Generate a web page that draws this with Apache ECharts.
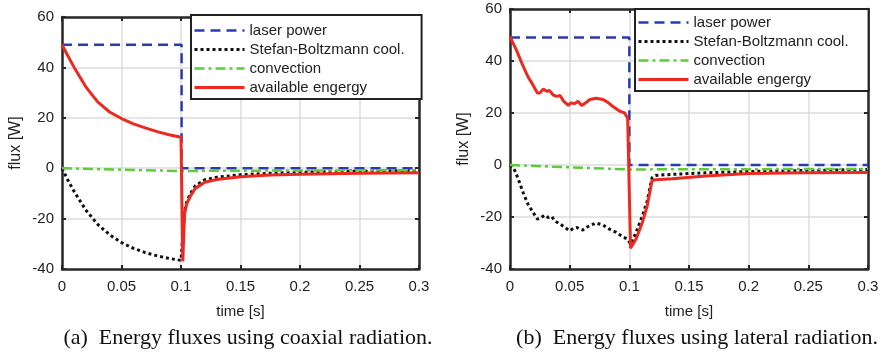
<!DOCTYPE html>
<html>
<head>
<meta charset="utf-8">
<script src="https://cdn.jsdelivr.net/npm/echarts@6/dist/echarts.min.js"></script>
<style>
  html, body { margin: 0; padding: 0; background: #fff; }
  #chart { width: 882px; height: 357px; }
</style>
</head>
<body>
<div id="chart"></div>
<script>
// (a) coaxial radiation
var timeA = [0, 0.005, 0.01, 0.02, 0.03, 0.04, 0.05, 0.06, 0.07, 0.08, 0.09, 0.1,
             0.1015, 0.103, 0.105, 0.108, 0.112, 0.12, 0.13, 0.15, 0.175, 0.2, 0.25, 0.3];
var availA = [49, 44.5, 40.2, 32.3, 26.3, 22.3, 19.7, 17.6, 16, 14.5, 13.3, 12.3,
              -37, -18, -14, -11, -8, -5.6, -4.5, -3.4, -2.7, -2.4, -2.0, -1.8];
var stefanA = [0, -4.8, -9.1, -16.6, -22.3, -26.4, -29.5, -31.8, -33.5, -34.8, -35.8, -36.6,
               -36.8, -17, -13, -10, -7, -4.6, -3.6, -2.6, -2.0, -1.6, -1.2, -1.0];
var convTimeA = [0, 0.05, 0.1, 0.15, 0.2, 0.3];
var convA = [0, -0.6, -1.1, -1.0, -0.9, -0.8];
var laserTimeA = [0, 0.1005, 0.1005, 0.3];
var laserA = [49, 49, 0, 0];

// (b) lateral radiation
var timeB = [0, 0.0056, 0.011, 0.015, 0.019, 0.023, 0.025, 0.028, 0.031, 0.033, 0.036, 0.039,
             0.042, 0.045, 0.049, 0.051, 0.054, 0.057, 0.06, 0.0625, 0.067, 0.072, 0.078, 0.082,
             0.086, 0.092, 0.096, 0.0986, 0.1, 0.101, 0.1056, 0.111, 0.115, 0.119, 0.122, 0.136,
             0.164, 0.2, 0.247, 0.3];
var availB = [49.4, 44, 38, 34, 31, 27.7, 27.7, 29.2, 28.3, 28.7, 27, 26.4,
              26.7, 24.5, 22.9, 23.9, 23.6, 24.5, 22.9, 23.6, 25.2, 25.7, 25.2, 24.1,
              22.6, 20.7, 20, 18, 17.5, -32, -28.5, -22, -15.7, -6, -5.7, -5.3,
              -4.2, -3.3, -3, -2.9];
var stefanTimeB = [0, 0.003, 0.007, 0.011, 0.015, 0.019, 0.023, 0.026, 0.029, 0.032, 0.035, 0.0375,
                   0.042, 0.046, 0.05, 0.053, 0.056, 0.058, 0.061, 0.064, 0.068, 0.072, 0.078, 0.083,
                   0.089, 0.094, 0.0986, 0.1, 0.101, 0.1056, 0.111, 0.115, 0.119, 0.122, 0.136, 0.164,
                   0.2, 0.3];
var stefanB = [0, -1, -5.5, -10.6, -15, -18, -20.8, -20.2, -19.3, -20.2, -19.8, -21.5,
               -22.7, -24, -25.3, -24.4, -24, -24.6, -25, -24, -23.1, -22.3, -23.1, -24.6,
               -25.9, -27.5, -28.5, -29, -30.4, -26, -19.5, -13.8, -4.9, -4, -3.6, -3,
               -2.5, -1.7];
var convTimeB = [0, 0.05, 0.1, 0.2, 0.3];
var convB = [0, -0.9, -1.7, -1.6, -1.5];
var laserTimeB = [0, 0.1, 0.1, 0.3];
var laserB = [49, 49, 0, 0];

var names = ['laser power', 'Stefan-Boltzmann cool.', 'convection', 'available engergy'];
var captions = ['(a)  Energy fluxes using coaxial radiation.', '(b)  Energy fluxes using lateral radiation.'];

function pairs(xs, ys) {
    return xs.map(function (x, i) { return [x, ys[i]]; });
}

var font = 'Liberation Sans, Arial, sans-serif';
var serif = 'Liberation Serif, Times New Roman, serif';
var dark = '#262626';
var grids = [
    { left: 62, top: 17, width: 357, height: 252 },
    { left: 510, top: 9, width: 358, height: 260 }
];

var xAxes = [], yAxes = [];
grids.forEach(function (g, gi) {
    ['bottom', 'top'].forEach(function (pos) {
        xAxes.push({
            type: 'value', gridIndex: gi, position: pos, min: 0, max: 0.3, interval: 0.05,
            name: pos === 'bottom' ? 'time [s]' : '', nameLocation: 'middle', nameGap: 35,
            nameTextStyle: { fontFamily: font, fontSize: 15, color: '#222' },
            axisLine: { show: true, onZero: false, lineStyle: { color: dark, width: 2.5 } },
            axisTick: { show: true, inside: true, length: 4, lineStyle: { color: dark, width: 2 } },
            axisLabel: { show: pos === 'bottom', margin: 10, fontFamily: font, fontSize: 15, color: '#222' },
            splitLine: { show: pos === 'bottom', showMinLine: false, showMaxLine: false,
                         lineStyle: { color: '#dcdcdc', width: 1.5 } }
        });
    });
    ['left', 'right'].forEach(function (pos) {
        yAxes.push({
            type: 'value', gridIndex: gi, position: pos, min: -40, max: 60, interval: 20,
            name: pos === 'left' ? 'flux [W]' : '', nameLocation: 'middle', nameGap: 38,
            nameTextStyle: { fontFamily: font, fontSize: 16, color: '#222' },
            axisLine: { show: true, onZero: false, lineStyle: { color: dark, width: 2.5 } },
            axisTick: { show: true, inside: true, length: 4, lineStyle: { color: dark, width: 2 } },
            axisLabel: { show: pos === 'left', margin: 8, fontFamily: font, fontSize: 15, color: '#222' },
            splitLine: { show: pos === 'left', showMinLine: false, showMaxLine: false,
                         lineStyle: { color: '#dcdcdc', width: 1.5 } }
        });
    });
});

var styles = [
    { color: '#2b3cb0', width: 2.5, type: [10, 6] },
    { color: '#111111', width: 3, type: [3, 3] },
    { color: '#5ccc38', width: 2.5, type: [10, 4, 3, 4] },
    { color: '#ec2a22', width: 3, type: 'solid' }
];

function makeSeries(gi, lists) {
    return lists.map(function (d, i) {
        return {
            name: names[i], type: 'line', xAxisIndex: gi * 2, yAxisIndex: gi * 2,
            data: d, symbol: 'none', showSymbol: false, animation: false, z: 2 + i,
            lineStyle: styles[i], itemStyle: { color: styles[i].color }
        };
    });
}

var series = makeSeries(0, [
    pairs(laserTimeA, laserA), pairs(timeA, stefanA), pairs(convTimeA, convA), pairs(timeA, availA)
]).concat(makeSeries(1, [
    pairs(laserTimeB, laserB), pairs(stefanTimeB, stefanB), pairs(convTimeB, convB), pairs(timeB, availB)
]));

function legendAt(left, top, padding) {
    return {
        data: names, orient: 'vertical', left: left, top: top, padding: padding,
        itemWidth: 50, itemHeight: 14, itemGap: 4,
        itemStyle: { opacity: 0 },
        lineStyle: { width: 'inherit' },
        backgroundColor: '#fff', borderColor: '#222', borderWidth: 2,
        textStyle: { fontFamily: font, fontSize: 15, color: '#222' },
        selectedMode: false
    };
}

var chart = echarts.init(document.getElementById('chart'));
chart.setOption({
    animation: false,
    grid: grids.map(function (g) {
        return Object.assign({ show: false }, g);
    }),
    xAxis: xAxes,
    yAxis: yAxes,
    legend: [legendAt(191, 15, [8, 17, 4, 2]), legendAt(635, 9, [6, 20, 4, 2])],
    title: [
        { text: captions[0], left: 243, top: 322, textAlign: 'center',
          textStyle: { fontFamily: serif, fontSize: 22, fontWeight: 'normal', color: '#111' } },
        { text: captions[1], left: 692, top: 322, textAlign: 'center',
          textStyle: { fontFamily: serif, fontSize: 22, fontWeight: 'normal', color: '#111' } }
    ],
    series: series
});
</script>
</body>
</html>
